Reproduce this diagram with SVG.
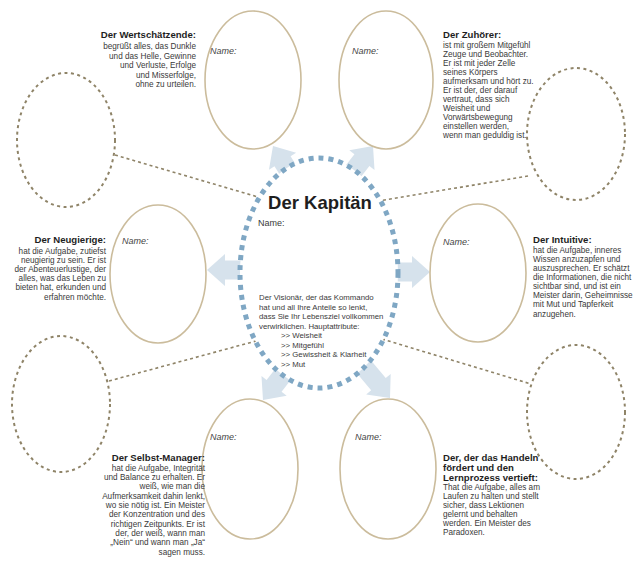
<svg xmlns="http://www.w3.org/2000/svg" width="635" height="565" viewBox="0 0 635 565">
<style>
text{font-family:"Liberation Sans",Arial,sans-serif;fill:#3a3a3a}
.h{font-weight:bold;font-size:9.6px;fill:#1e1e1e}
.b{font-size:8.2px}
.c{font-size:7.8px}
.r{text-anchor:end}
.nm{font-style:italic;font-size:9px;fill:#444}
.solid{fill:#fff;stroke:#cbbc9c;stroke-width:1.6}
.dash{fill:none;stroke:#8f8468;stroke-width:2;stroke-dasharray:3 3.5}
.con{fill:none;stroke:#8f8468;stroke-width:1.6;stroke-dasharray:3 3}
.arr{fill:#d6e2ec}
</style>
<defs>
<path id="arrow" d="M0,0 L-18,-16 L-18,-9.5 L-48,-9.5 L-48,9.5 L-18,9.5 L-18,16 Z"/>
</defs>
<rect width="635" height="565" fill="#fff"/>

<g id="connectors">
<line class="con" x1="115" y1="155" x2="258" y2="197"/>
<line class="con" x1="528" y1="176" x2="378" y2="201"/>
<line class="con" x1="109" y1="381" x2="256" y2="341"/>
<line class="con" x1="382" y1="339" x2="531" y2="384"/>
</g>

<g id="arrows" class="arr">
<use href="#arrow" transform="translate(273,146) rotate(-122)"/>
<use href="#arrow" transform="translate(373,146) rotate(-52)"/>
<use href="#arrow" transform="translate(207,270) rotate(180)"/>
<use href="#arrow" transform="translate(430,272)"/>
<use href="#arrow" transform="translate(263,400) rotate(128)"/>
<use href="#arrow" transform="translate(390,398) rotate(50)"/>
</g>

<g id="kapitaen">
<ellipse cx="319" cy="273" rx="79" ry="115" fill="#fff" stroke="#7fa7c4" stroke-width="5" stroke-dasharray="5 5"/>
<text x="320" y="209" text-anchor="middle" style="font-weight:bold;font-size:18.5px;fill:#1e1e1e">Der Kapitän</text>
<text x="258" y="226" style="font-size:9px">Name:</text>
<text class="c" x="259" y="300">Der Visionär, der das Kommando</text>
<text class="c" x="259" y="309.5">hat und all Ihre Anteile so lenkt,</text>
<text class="c" x="259" y="319">dass Sie Ihr Lebensziel vollkommen</text>
<text class="c" x="259" y="328.5">verwirklichen. Hauptattribute:</text>
<text class="c" x="281" y="338">&gt;&gt; Weisheit</text>
<text class="c" x="281" y="347.5">&gt;&gt; Mitgefühl</text>
<text class="c" x="281" y="357">&gt;&gt; Gewissheit &amp; Klarheit</text>
<text class="c" x="281" y="366.5">&gt;&gt; Mut</text>
</g>

<g id="wertschaetzende">
<ellipse class="solid" cx="253" cy="80" rx="48" ry="69"/>
<text class="nm" x="210" y="54">Name:</text>
<text class="h r" x="196" y="38">Der Wertschätzende:</text>
<text class="b r" x="196" y="49">begrüßt alles, das Dunkle</text>
<text class="b r" x="196" y="58.5">und das Helle, Gewinne</text>
<text class="b r" x="196" y="68">und Verluste, Erfolge</text>
<text class="b r" x="196" y="77.5">und Misserfolge,</text>
<text class="b r" x="196" y="87">ohne zu urteilen.</text>
</g>

<g id="zuhoerer">
<ellipse class="solid" cx="386" cy="80" rx="47" ry="69"/>
<text class="nm" x="352" y="54">Name:</text>
<text class="h" x="443" y="38">Der Zuhörer:</text>
<text class="b" x="443" y="48">ist mit großem Mitgefühl</text>
<text class="b" x="443" y="57">Zeuge und Beobachter.</text>
<text class="b" x="443" y="66">Er ist mit jeder Zelle</text>
<text class="b" x="443" y="75">seines Körpers</text>
<text class="b" x="443" y="84">aufmerksam und hört zu.</text>
<text class="b" x="443" y="93">Er ist der, der darauf</text>
<text class="b" x="443" y="102">vertraut, dass sich</text>
<text class="b" x="443" y="111">Weisheit und</text>
<text class="b" x="443" y="120">Vorwärtsbewegung</text>
<text class="b" x="443" y="129">einstellen werden,</text>
<text class="b" x="443" y="138">wenn man geduldig ist.</text>
</g>

<g id="neugierige">
<ellipse class="solid" cx="158" cy="274" rx="48" ry="69"/>
<text class="nm" x="122" y="244">Name:</text>
<text class="h r" x="106" y="243">Der Neugierige:</text>
<text class="b r" x="106" y="253.5">hat die Aufgabe, zutiefst</text>
<text class="b r" x="106" y="262.5">neugierig zu sein. Er ist</text>
<text class="b r" x="106" y="271.5">der Abenteuerlustige, der</text>
<text class="b r" x="106" y="281">alles, was das Leben zu</text>
<text class="b r" x="106" y="290">bieten hat, erkunden und</text>
<text class="b r" x="106" y="299.5">erfahren möchte.</text>
</g>

<g id="intuitive">
<ellipse class="solid" cx="478" cy="273" rx="48" ry="69"/>
<text class="nm" x="443" y="245">Name:</text>
<text class="h" x="533" y="243">Der Intuitive:</text>
<text class="b" x="533" y="252.5">hat die Aufgabe, inneres</text>
<text class="b" x="533" y="261.5">Wissen anzuzapfen und</text>
<text class="b" x="533" y="270.5">auszusprechen. Er schätzt</text>
<text class="b" x="533" y="280">die Informationen, die nicht</text>
<text class="b" x="533" y="289">sichtbar sind, und ist ein</text>
<text class="b" x="533" y="298">Meister darin, Geheimnisse</text>
<text class="b" x="533" y="307">mit Mut und Tapferkeit</text>
<text class="b" x="533" y="316.5">anzugehen.</text>
</g>

<g id="selbstmanager">
<ellipse class="solid" cx="250" cy="469" rx="48" ry="70"/>
<text class="nm" x="210" y="440">Name:</text>
<text class="h r" x="205" y="461">Der Selbst-Manager:</text>
<text class="b r" x="205" y="470.5">hat die Aufgabe, Integrität</text>
<text class="b r" x="205" y="479.5">und Balance zu erhalten. Er</text>
<text class="b r" x="205" y="489">weiß, wie man die</text>
<text class="b r" x="205" y="498.5">Aufmerksamkeit dahin lenkt,</text>
<text class="b r" x="205" y="507.5">wo sie nötig ist. Ein Meister</text>
<text class="b r" x="205" y="517">der Konzentration und des</text>
<text class="b r" x="205" y="526.5">richtigen Zeitpunkts. Er ist</text>
<text class="b r" x="205" y="535.5">der, der weiß, wann man</text>
<text class="b r" x="205" y="545">„Nein“ und wann man „Ja“</text>
<text class="b r" x="205" y="554.5">sagen muss.</text>
</g>

<g id="handeln">
<ellipse class="solid" cx="388" cy="469" rx="48" ry="70"/>
<text class="nm" x="355" y="440">Name:</text>
<text class="h" x="443" y="461">Der, der das Handeln</text>
<text class="h" x="443" y="471">fördert und den</text>
<text class="h" x="443" y="481">Lernprozess vertieft:</text>
<text class="b" x="443" y="490">That die Aufgabe, alles am</text>
<text class="b" x="443" y="499">Laufen zu halten und stellt</text>
<text class="b" x="443" y="508">sicher, dass Lektionen</text>
<text class="b" x="443" y="517">gelernt und behalten</text>
<text class="b" x="443" y="526">werden. Ein Meister des</text>
<text class="b" x="443" y="535">Paradoxen.</text>
</g>

<g id="dashed-tl"><ellipse class="dash" cx="66" cy="140" rx="49" ry="67"/></g>
<g id="dashed-tr"><ellipse class="dash" cx="576" cy="134" rx="49" ry="66"/></g>
<g id="dashed-bl"><ellipse class="dash" cx="61" cy="404" rx="49" ry="68"/></g>
<g id="dashed-br"><ellipse class="dash" cx="576" cy="412" rx="49" ry="67"/></g>
</svg>
